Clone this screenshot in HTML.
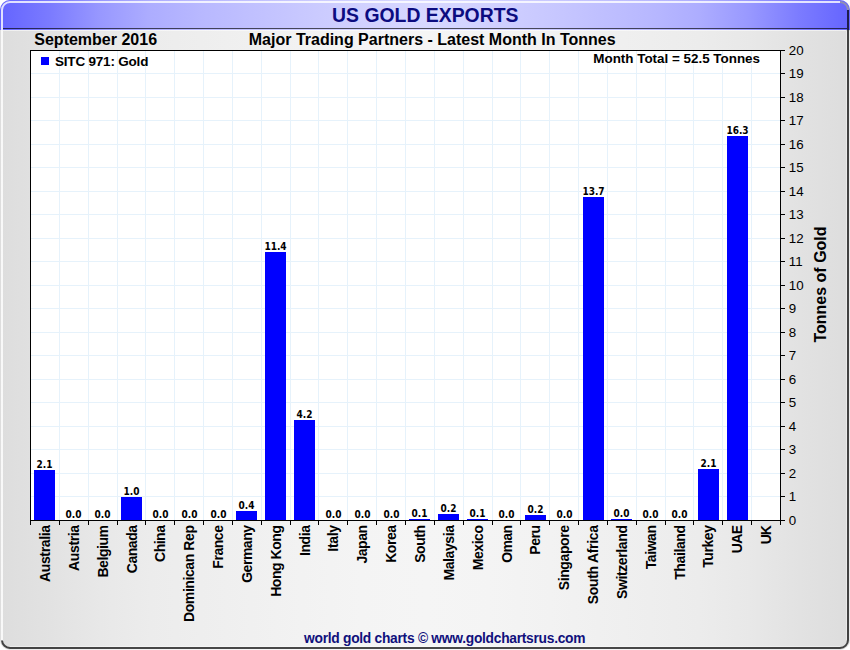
<!DOCTYPE html><html><head><meta charset="utf-8"><style>html,body{margin:0;padding:0;background:#fff;}svg{display:block;}text{font-family:"Liberation Sans",Arial,sans-serif;}</style></head><body>
<svg width="850" height="650" viewBox="0 0 850 650">
<defs><linearGradient id="bg" x1="0" y1="0" x2="1" y2="0"><stop offset="0.0000" stop-color="#dddddd"/><stop offset="0.0590" stop-color="#e2e2e2"/><stop offset="0.1181" stop-color="#e8e8e8"/><stop offset="0.1771" stop-color="#ececec"/><stop offset="0.2361" stop-color="#eeeeee"/><stop offset="0.2952" stop-color="#f0f0f0"/><stop offset="0.3542" stop-color="#f2f2f2"/><stop offset="0.4250" stop-color="#f4f4f4"/><stop offset="0.5006" stop-color="#f5f5f5"/><stop offset="0.5750" stop-color="#f4f4f4"/><stop offset="0.6458" stop-color="#f2f2f2"/><stop offset="0.7048" stop-color="#f0f0f0"/><stop offset="0.7639" stop-color="#eeeeee"/><stop offset="0.8229" stop-color="#ececec"/><stop offset="0.8819" stop-color="#e8e8e8"/><stop offset="0.9410" stop-color="#e2e2e2"/><stop offset="1.0000" stop-color="#dddddd"/></linearGradient><linearGradient id="hd" x1="0" y1="0" x2="1" y2="0"><stop offset="0.0000" stop-color="#6464ff"/><stop offset="0.0590" stop-color="#7b7bff"/><stop offset="0.1181" stop-color="#9898ff"/><stop offset="0.1771" stop-color="#adadff"/><stop offset="0.2361" stop-color="#b8b8ff"/><stop offset="0.2952" stop-color="#c0c0ff"/><stop offset="0.3542" stop-color="#c8c8ff"/><stop offset="0.4250" stop-color="#d1d1ff"/><stop offset="0.5006" stop-color="#d8d8ff"/><stop offset="0.5750" stop-color="#d1d1ff"/><stop offset="0.6458" stop-color="#c8c8ff"/><stop offset="0.7048" stop-color="#c0c0ff"/><stop offset="0.7639" stop-color="#b8b8ff"/><stop offset="0.8229" stop-color="#adadff"/><stop offset="0.8819" stop-color="#9898ff"/><stop offset="0.9410" stop-color="#7b7bff"/><stop offset="1.0000" stop-color="#6464ff"/></linearGradient><clipPath id="fr"><rect x="0" y="0" width="850" height="650" rx="10"/></clipPath></defs>
<g clip-path="url(#fr)">
<rect x="0" y="0" width="850" height="650" fill="url(#bg)"/>
<rect x="0" y="0" width="850" height="30" fill="url(#hd)"/>
<rect x="3" y="28" width="844" height="1" fill="#000" fill-opacity="0.65"/>
<rect x="3" y="30" width="843" height="1" fill="#fff" fill-opacity="0.55"/>
</g>
<path d="M2 640.5V10A8 8 0 0 1 10 2H840" fill="none" stroke="#fff" stroke-opacity="0.8" stroke-width="2"/>
<path d="M840 2A8 8 0 0 1 848 10" fill="none" stroke="#9a9aa0" stroke-opacity="0.8" stroke-width="2"/>
<path d="M846.5 31V640M849.5 31V640M10 646.5H840M10 649.5H840" fill="none" stroke="#fff" stroke-opacity="0.4" stroke-width="1"/>
<path d="M2 640.5A8 8 0 0 0 10 648H840A8 8 0 0 0 848 640V10" fill="none" stroke="#000" stroke-opacity="0.7" stroke-width="2"/>
<rect x="30" y="50" width="750" height="470" fill="#fff"/>
<path d="M30 496.50H780 M30 473.50H780 M30 449.50H780 M30 426.50H780 M30 402.50H780 M30 379.50H780 M30 355.50H780 M30 332.50H780 M30 308.50H780 M30 285.50H780 M30 261.50H780 M30 238.50H780 M30 214.50H780 M30 191.50H780 M30 167.50H780 M30 144.50H780 M30 120.50H780 M30 97.50H780 M30 73.50H780 M59.50 50V520 M88.50 50V520 M117.50 50V520 M145.50 50V520 M174.50 50V520 M203.50 50V520 M232.50 50V520 M261.50 50V520 M290.50 50V520 M318.50 50V520 M347.50 50V520 M376.50 50V520 M405.50 50V520 M434.50 50V520 M463.50 50V520 M492.50 50V520 M520.50 50V520 M549.50 50V520 M578.50 50V520 M607.50 50V520 M636.50 50V520 M665.50 50V520 M693.50 50V520 M722.50 50V520 M751.50 50V520" stroke="#e6f2fb" stroke-width="1" fill="none"/>
<rect x="34" y="470" width="21" height="50" fill="#0000ff"/>
<rect x="121" y="497" width="21" height="23" fill="#0000ff"/>
<rect x="236" y="511" width="21" height="9" fill="#0000ff"/>
<rect x="265" y="252" width="21" height="268" fill="#0000ff"/>
<rect x="294" y="420" width="21" height="100" fill="#0000ff"/>
<rect x="409" y="519" width="21" height="1" fill="#0000ff"/>
<rect x="438" y="514" width="21" height="6" fill="#0000ff"/>
<rect x="467" y="519" width="21" height="1" fill="#0000ff"/>
<rect x="525" y="515" width="21" height="5" fill="#0000ff"/>
<rect x="583" y="197" width="21" height="323" fill="#0000ff"/>
<rect x="611" y="519" width="21" height="1" fill="#0000ff"/>
<rect x="698" y="469" width="21" height="51" fill="#0000ff"/>
<rect x="727" y="136" width="21" height="384" fill="#0000ff"/>
<text x="44.50" y="468" text-anchor="middle" style="font:bold 10px 'DejaVu Sans Condensed','DejaVu Sans',sans-serif">2.1</text>
<text x="73.50" y="518" text-anchor="middle" style="font:bold 10px 'DejaVu Sans Condensed','DejaVu Sans',sans-serif">0.0</text>
<text x="102.50" y="518" text-anchor="middle" style="font:bold 10px 'DejaVu Sans Condensed','DejaVu Sans',sans-serif">0.0</text>
<text x="131.50" y="495" text-anchor="middle" style="font:bold 10px 'DejaVu Sans Condensed','DejaVu Sans',sans-serif">1.0</text>
<text x="160.50" y="518" text-anchor="middle" style="font:bold 10px 'DejaVu Sans Condensed','DejaVu Sans',sans-serif">0.0</text>
<text x="189.50" y="518" text-anchor="middle" style="font:bold 10px 'DejaVu Sans Condensed','DejaVu Sans',sans-serif">0.0</text>
<text x="218.50" y="518" text-anchor="middle" style="font:bold 10px 'DejaVu Sans Condensed','DejaVu Sans',sans-serif">0.0</text>
<text x="246.50" y="509" text-anchor="middle" style="font:bold 10px 'DejaVu Sans Condensed','DejaVu Sans',sans-serif">0.4</text>
<text x="275.50" y="250" text-anchor="middle" style="font:bold 10px 'DejaVu Sans Condensed','DejaVu Sans',sans-serif">11.4</text>
<text x="304.50" y="418" text-anchor="middle" style="font:bold 10px 'DejaVu Sans Condensed','DejaVu Sans',sans-serif">4.2</text>
<text x="333.50" y="518" text-anchor="middle" style="font:bold 10px 'DejaVu Sans Condensed','DejaVu Sans',sans-serif">0.0</text>
<text x="362.50" y="518" text-anchor="middle" style="font:bold 10px 'DejaVu Sans Condensed','DejaVu Sans',sans-serif">0.0</text>
<text x="391.50" y="518" text-anchor="middle" style="font:bold 10px 'DejaVu Sans Condensed','DejaVu Sans',sans-serif">0.0</text>
<text x="419.50" y="517" text-anchor="middle" style="font:bold 10px 'DejaVu Sans Condensed','DejaVu Sans',sans-serif">0.1</text>
<text x="448.50" y="512" text-anchor="middle" style="font:bold 10px 'DejaVu Sans Condensed','DejaVu Sans',sans-serif">0.2</text>
<text x="477.50" y="517" text-anchor="middle" style="font:bold 10px 'DejaVu Sans Condensed','DejaVu Sans',sans-serif">0.1</text>
<text x="506.50" y="518" text-anchor="middle" style="font:bold 10px 'DejaVu Sans Condensed','DejaVu Sans',sans-serif">0.0</text>
<text x="535.50" y="513" text-anchor="middle" style="font:bold 10px 'DejaVu Sans Condensed','DejaVu Sans',sans-serif">0.2</text>
<text x="564.50" y="518" text-anchor="middle" style="font:bold 10px 'DejaVu Sans Condensed','DejaVu Sans',sans-serif">0.0</text>
<text x="593.50" y="195" text-anchor="middle" style="font:bold 10px 'DejaVu Sans Condensed','DejaVu Sans',sans-serif">13.7</text>
<text x="621.50" y="517" text-anchor="middle" style="font:bold 10px 'DejaVu Sans Condensed','DejaVu Sans',sans-serif">0.0</text>
<text x="650.50" y="518" text-anchor="middle" style="font:bold 10px 'DejaVu Sans Condensed','DejaVu Sans',sans-serif">0.0</text>
<text x="679.50" y="518" text-anchor="middle" style="font:bold 10px 'DejaVu Sans Condensed','DejaVu Sans',sans-serif">0.0</text>
<text x="708.50" y="467" text-anchor="middle" style="font:bold 10px 'DejaVu Sans Condensed','DejaVu Sans',sans-serif">2.1</text>
<text x="737.50" y="134" text-anchor="middle" style="font:bold 10px 'DejaVu Sans Condensed','DejaVu Sans',sans-serif">16.3</text>
<rect x="30.5" y="50.5" width="750" height="470" fill="none" stroke="#000" stroke-width="1"/>
<path d="M30.5 520V525 M59.5 520V525 M88.5 520V525 M117.5 520V525 M145.5 520V525 M174.5 520V525 M203.5 520V525 M232.5 520V525 M261.5 520V525 M290.5 520V525 M318.5 520V525 M347.5 520V525 M376.5 520V525 M405.5 520V525 M434.5 520V525 M463.5 520V525 M492.5 520V525 M520.5 520V525 M549.5 520V525 M578.5 520V525 M607.5 520V525 M636.5 520V525 M665.5 520V525 M693.5 520V525 M722.5 520V525 M751.5 520V525 M780.5 520V525 M780 520.50H785 M780 496.50H785 M780 473.50H785 M780 449.50H785 M780 426.50H785 M780 402.50H785 M780 379.50H785 M780 355.50H785 M780 332.50H785 M780 308.50H785 M780 285.50H785 M780 261.50H785 M780 238.50H785 M780 214.50H785 M780 191.50H785 M780 167.50H785 M780 144.50H785 M780 120.50H785 M780 97.50H785 M780 73.50H785 M780 50.50H785" stroke="#000" stroke-width="1" fill="none"/>
<text x="788.8" y="524.60" style="font-size:13.33px">0</text>
<text x="788.8" y="500.60" style="font-size:13.33px">1</text>
<text x="788.8" y="477.60" style="font-size:13.33px">2</text>
<text x="788.8" y="453.60" style="font-size:13.33px">3</text>
<text x="788.8" y="430.60" style="font-size:13.33px">4</text>
<text x="788.8" y="406.60" style="font-size:13.33px">5</text>
<text x="788.8" y="383.60" style="font-size:13.33px">6</text>
<text x="788.8" y="359.60" style="font-size:13.33px">7</text>
<text x="788.8" y="336.60" style="font-size:13.33px">8</text>
<text x="788.8" y="312.60" style="font-size:13.33px">9</text>
<text x="788.8" y="289.60" style="font-size:13.33px">10</text>
<text x="788.8" y="265.60" style="font-size:13.33px">11</text>
<text x="788.8" y="242.60" style="font-size:13.33px">12</text>
<text x="788.8" y="218.60" style="font-size:13.33px">13</text>
<text x="788.8" y="195.60" style="font-size:13.33px">14</text>
<text x="788.8" y="171.60" style="font-size:13.33px">15</text>
<text x="788.8" y="148.60" style="font-size:13.33px">16</text>
<text x="788.8" y="124.60" style="font-size:13.33px">17</text>
<text x="788.8" y="101.60" style="font-size:13.33px">18</text>
<text x="788.8" y="77.60" style="font-size:13.33px">19</text>
<text x="788.8" y="54.60" style="font-size:13.33px">20</text>
<text transform="translate(50.02,525) rotate(-90)" text-anchor="end" textLength="57.04" style="font-weight:bold;font-size:14px">Australia</text>
<text transform="translate(78.87,525) rotate(-90)" text-anchor="end" textLength="45.92" style="font-weight:bold;font-size:14px">Austria</text>
<text transform="translate(107.72,525) rotate(-90)" text-anchor="end" textLength="52.58" style="font-weight:bold;font-size:14px">Belgium</text>
<text transform="translate(136.56,525) rotate(-90)" text-anchor="end" textLength="48.15" style="font-weight:bold;font-size:14px">Canada</text>
<text transform="translate(165.41,525) rotate(-90)" text-anchor="end" textLength="37.02" style="font-weight:bold;font-size:14px">China</text>
<text transform="translate(194.25,525) rotate(-90)" text-anchor="end" textLength="97.01" style="font-weight:bold;font-size:14px">Dominican Rep</text>
<text transform="translate(223.10,525) rotate(-90)" text-anchor="end" textLength="43.71" style="font-weight:bold;font-size:14px">France</text>
<text transform="translate(251.95,525) rotate(-90)" text-anchor="end" textLength="57.78" style="font-weight:bold;font-size:14px">Germany</text>
<text transform="translate(280.79,525) rotate(-90)" text-anchor="end" textLength="71.80" style="font-weight:bold;font-size:14px">Hong Kong</text>
<text transform="translate(309.64,525) rotate(-90)" text-anchor="end" textLength="31.10" style="font-weight:bold;font-size:14px">India</text>
<text transform="translate(338.48,525) rotate(-90)" text-anchor="end" textLength="26.67" style="font-weight:bold;font-size:14px">Italy</text>
<text transform="translate(367.33,525) rotate(-90)" text-anchor="end" textLength="38.52" style="font-weight:bold;font-size:14px">Japan</text>
<text transform="translate(396.18,525) rotate(-90)" text-anchor="end" textLength="37.78" style="font-weight:bold;font-size:14px">Korea</text>
<text transform="translate(425.02,525) rotate(-90)" text-anchor="end" textLength="37.75" style="font-weight:bold;font-size:14px">South</text>
<text transform="translate(453.87,525) rotate(-90)" text-anchor="end" textLength="55.57" style="font-weight:bold;font-size:14px">Malaysia</text>
<text transform="translate(482.72,525) rotate(-90)" text-anchor="end" textLength="45.18" style="font-weight:bold;font-size:14px">Mexico</text>
<text transform="translate(511.56,525) rotate(-90)" text-anchor="end" textLength="37.77" style="font-weight:bold;font-size:14px">Oman</text>
<text transform="translate(540.41,525) rotate(-90)" text-anchor="end" textLength="29.63" style="font-weight:bold;font-size:14px">Peru</text>
<text transform="translate(569.25,525) rotate(-90)" text-anchor="end" textLength="65.17" style="font-weight:bold;font-size:14px">Singapore</text>
<text transform="translate(598.10,525) rotate(-90)" text-anchor="end" textLength="79.23" style="font-weight:bold;font-size:14px">South Africa</text>
<text transform="translate(626.95,525) rotate(-90)" text-anchor="end" textLength="74.06" style="font-weight:bold;font-size:14px">Switzerland</text>
<text transform="translate(655.79,525) rotate(-90)" text-anchor="end" textLength="44.19" style="font-weight:bold;font-size:14px">Taiwan</text>
<text transform="translate(684.64,525) rotate(-90)" text-anchor="end" textLength="54.80" style="font-weight:bold;font-size:14px">Thailand</text>
<text transform="translate(713.48,525) rotate(-90)" text-anchor="end" textLength="42.72" style="font-weight:bold;font-size:14px">Turkey</text>
<text transform="translate(742.33,525) rotate(-90)" text-anchor="end" textLength="28.14" style="font-weight:bold;font-size:14px">UAE</text>
<text transform="translate(771.18,525) rotate(-90)" text-anchor="end" textLength="19.25" style="font-weight:bold;font-size:14px">UK</text>
<text x="425.3" y="22" text-anchor="middle" fill="#0c0c80" style="font-weight:bold;font-size:19.4px">US GOLD EXPORTS</text>
<text x="34.3" y="44.5" style="font-weight:bold;font-size:16px">September 2016</text>
<text x="432.2" y="44.7" text-anchor="middle" style="font-weight:bold;font-size:16px">Major Trading Partners - Latest Month In Tonnes</text>
<rect x="41" y="57" width="8" height="8" fill="#0000ff"/>
<text x="55" y="65.8" style="font-weight:bold;font-size:13.5px;letter-spacing:-0.2px">SITC 971: Gold</text>
<text x="760" y="62.9" text-anchor="end" style="font-weight:bold;font-size:13.42px">Month Total = 52.5 Tonnes</text>
<text transform="translate(826,284.5) rotate(-90)" text-anchor="middle" style="font-weight:bold;font-size:16px">Tonnes of Gold</text>
<text x="444.8" y="642.6" text-anchor="middle" textLength="281.5" fill="#10107c" style="font-weight:bold;font-size:13.8px">world gold charts © www.goldchartsrus.com</text>
</svg></body></html>
